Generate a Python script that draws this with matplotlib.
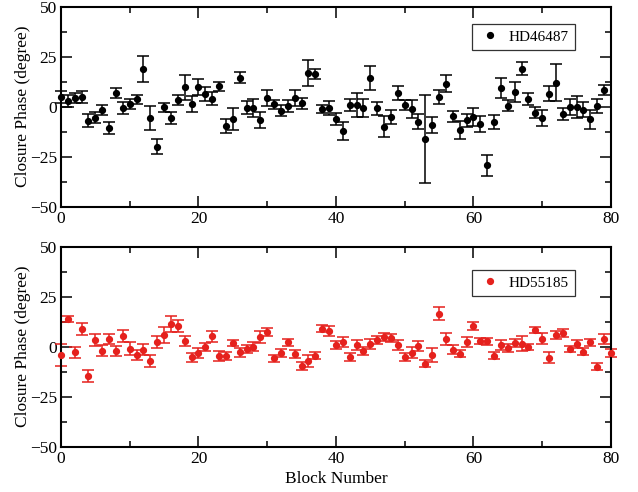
import numpy as np
import matplotlib
matplotlib.use("Agg")
import matplotlib.pyplot as plt
from matplotlib.ticker import MultipleLocator

plt.rcParams['font.family'] = ['Liberation Serif', 'DejaVu Serif']
plt.rcParams['mathtext.fontset'] = 'stix'

# Closure phase per observation block (degrees) with 1-sigma uncertainties
blocks_a = list(range(80))
phase_a = [4.7, 2.7, 4.3, 5.0, -7.0, -5.5, -1.7, -10.7, 6.8, -0.7,
           1.3, 3.7, 18.7, -5.7, -20.0, -0.3, -5.7, 3.3, 9.7, 1.3,
           9.7, 6.2, 4.0, 10.2, -9.7, -6.3, 14.5, -0.5, -0.7, -6.7,
           4.5, 1.2, -2.0, 0.3, 4.3, 1.7, 16.8, 16.2, -1.2, -0.7,
           -6.2, -12.0, 0.7, 1.0, -0.7, 14.3, -0.8, -10.0, -5.3, 7.0,
           0.8, -1.3, -7.5, -16.2, -9.3, 4.8, 11.5, -4.8, -11.5, -6.8,
           -5.3, -8.8, -29.3, -7.5, 9.3, 0.5, 7.5, 19.0, 4.0, -3.0,
           -5.7, 6.5, 12.0, -3.7, 0.0, -0.3, -1.5, -6.3, 0.5, 8.5]
err_a = [3.0, 3.0, 2.5, 3.0, 3.3, 2.7, 2.7, 3.0, 2.5, 2.8,
         2.6, 2.2, 6.4, 6.0, 3.6, 2.2, 2.8, 2.5, 6.2, 4.0,
         4.0, 3.4, 3.2, 2.3, 3.7, 5.5, 2.8, 3.2, 4.6, 3.9,
         4.0, 2.3, 2.7, 3.0, 4.0, 2.8, 6.5, 2.6, 2.2, 3.3,
         3.2, 4.5, 3.0, 6.0, 4.7, 6.0, 3.2, 5.2, 3.5, 3.5,
         2.5, 4.6, 3.6, 22.0, 4.0, 3.5, 4.2, 2.8, 4.5, 3.3,
         4.6, 4.0, 5.3, 3.5, 5.2, 2.8, 5.0, 3.2, 3.0, 2.8,
         4.1, 3.7, 9.4, 3.2, 4.0, 5.6, 3.8, 4.7, 3.5, 2.5]

blocks_b = list(range(81))
phase_b = [-4.2, 13.8, -2.8, 8.8, -14.8, 3.3, -2.0, 3.8, -2.0, 5.3,
           -1.0, -4.2, -1.5, -7.2, 2.2, 5.7, 11.5, 10.3, 3.0, -5.3,
           -3.3, -0.3, 5.2, -4.7, -4.7, 1.7, -2.8, -1.2, -0.1, 4.7,
           7.3, -5.8, -3.3, 2.2, -3.7, -9.8, -7.0, -4.5, 9.0, 7.8,
           0.8, 2.2, -5.2, 0.8, -2.2, 1.3, 3.3, 4.8, 4.5, 0.8,
           -5.2, -3.0, 0.3, -8.5, -4.2, 16.5, 3.8, -1.5, -3.5, 2.3,
           10.3, 2.7, 2.7, -4.5, 0.8, -0.7, 2.0, 1.5, -0.2, 8.2,
           4.0, -5.5, 5.7, 6.8, -1.2, 1.3, -2.5, 2.2, -10.0, 3.7,
           -3.3]
err_b = [5.6, 1.5, 2.8, 2.8, 3.0, 2.8, 2.7, 2.6, 2.5, 2.8,
         3.3, 2.3, 2.6, 2.8, 3.0, 4.1, 4.0, 3.2, 2.5, 2.2,
         2.5, 2.0, 2.8, 2.4, 2.2, 1.4, 2.2, 2.1, 2.2, 3.0,
         2.0, 1.8, 2.1, 1.8, 2.1, 2.1, 3.0, 1.6, 1.8, 2.6,
         1.8, 2.4, 1.8, 2.6, 1.8, 2.6, 2.0, 2.0, 2.0, 2.5,
         1.8, 2.7, 2.3, 1.7, 3.3, 3.1, 2.9, 2.2, 1.7, 2.7,
         2.2, 1.5, 1.8, 1.7, 2.7, 2.1, 2.0, 3.8, 1.5, 1.6,
         2.7, 2.7, 1.9, 2.0, 1.5, 2.1, 1.9, 1.8, 1.8, 2.5,
         2.0]

series = [
    (blocks_a, phase_a, err_a, 'black', 'HD46487', 0.9135),
    (blocks_b, phase_b, err_b, '#e5211d', 'HD55185', 0.8835),
]

fig = plt.figure(figsize=(6.38, 4.92), dpi=100)
left, width = 0.0956, 0.862
boxes = [(left, 0.5799, width, 0.4065), (left, 0.0921, width, 0.4065)]

for (x, y, e, color, name, legy), box in zip(series, boxes):
    ax = fig.add_axes(box)
    ax.errorbar(x, y, yerr=e, fmt='none', ecolor=color, elinewidth=1.1,
                capsize=4.6, capthick=1.1, clip_on=False, zorder=2)
    ax.plot(x, y, 'o', color=color, markersize=4.2, label=name,
            clip_on=False, zorder=3)
    ax.set_xlim(0, 80)
    ax.set_ylim(-50, 50)
    ax.xaxis.set_major_locator(MultipleLocator(20))
    ax.xaxis.set_minor_locator(MultipleLocator(10))
    ax.yaxis.set_major_locator(MultipleLocator(25))
    ax.yaxis.set_minor_locator(MultipleLocator(12.5))
    ax.tick_params(which='both', direction='in', top=True, right=True,
                   labelsize=12.5, width=1.1)
    ax.tick_params(which='major', length=8, pad=3)
    ax.tick_params(which='minor', length=4)
    for sp in ax.spines.values():
        sp.set_linewidth(1.5)
    ax.set_ylabel('Closure Phase (degree)', fontsize=12.5, labelpad=-1)
    leg = ax.legend(loc='upper right', bbox_to_anchor=(0.9345, legy),
                    numpoints=1, fontsize=11, frameon=True, fancybox=False,
                    handlelength=1.5, handletextpad=0.5, borderpad=0.4,
                    borderaxespad=0.0)
    leg.get_frame().set_edgecolor('black')
    leg.get_frame().set_linewidth(0.9)
    if name == 'HD55185':
        ax.set_xlabel('Block Number', fontsize=12.5, labelpad=3)

fig.savefig('out.png', dpi=100)
